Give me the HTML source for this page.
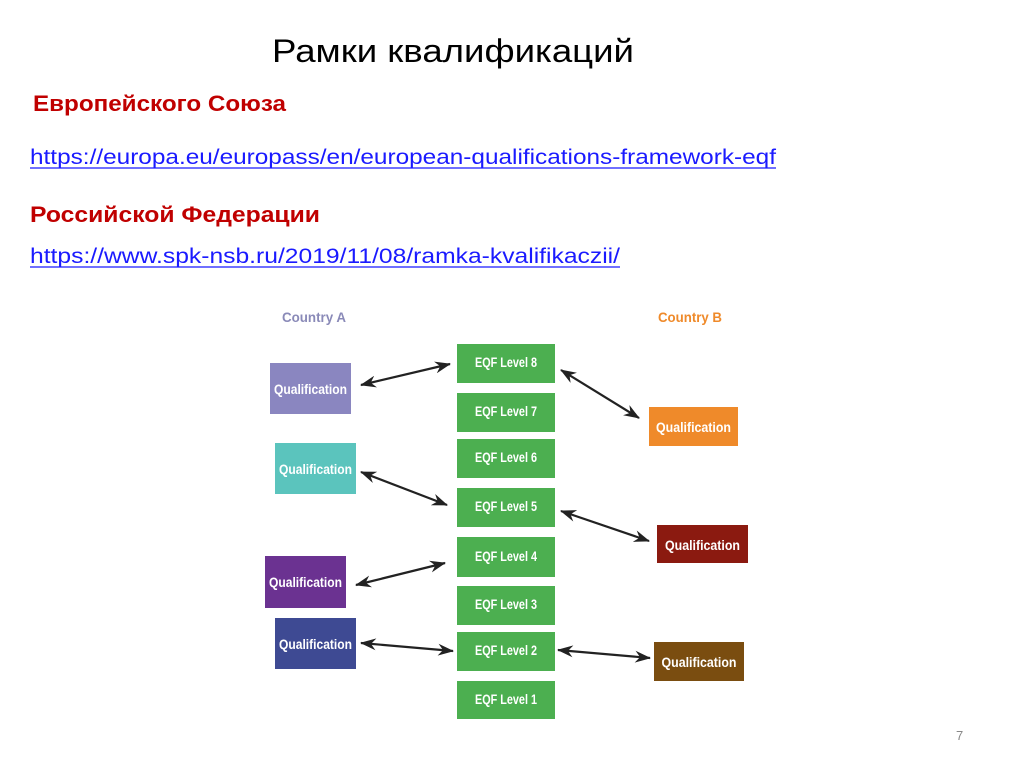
<!DOCTYPE html>
<html><head><meta charset="utf-8"><style>
html,body{margin:0;padding:0;background:#fff;}
svg{display:block;}
</style></head><body>
<svg width="1024" height="767" viewBox="0 0 1024 767" xmlns="http://www.w3.org/2000/svg" font-family="Liberation Sans, sans-serif">
<defs>
<marker id="ah" markerWidth="16" markerHeight="12" refX="15" refY="6" orient="auto-start-reverse" markerUnits="userSpaceOnUse">
<path d="M0,0 L16,6 L0,12 L5,6 Z" fill="#222"/>
</marker>
</defs>
<text x="272" y="62" font-size="32" fill="#000" textLength="362" lengthAdjust="spacingAndGlyphs">Рамки квалификаций</text>
<text x="33" y="111" font-size="22" font-weight="bold" fill="#c00000" textLength="253" lengthAdjust="spacingAndGlyphs">Европейского Союза</text>
<text x="30" y="164" font-size="21" fill="#1a1aff" textLength="746" lengthAdjust="spacingAndGlyphs">https://europa.eu/europass/en/european-qualifications-framework-eqf</text>
<line x1="30" y1="168" x2="776" y2="168" stroke="#1a1aff" stroke-width="1.3"/>
<text x="30" y="222" font-size="22" font-weight="bold" fill="#c00000" textLength="290" lengthAdjust="spacingAndGlyphs">Российской Федерации</text>
<text x="30" y="263" font-size="21" fill="#1a1aff" textLength="590" lengthAdjust="spacingAndGlyphs">https://www.spk-nsb.ru/2019/11/08/ramka-kvalifikaczii/</text>
<line x1="30" y1="267" x2="620" y2="267" stroke="#1a1aff" stroke-width="1.3"/>

<text x="282" y="322" font-size="14" font-weight="bold" fill="#8a8ab8" textLength="64" lengthAdjust="spacingAndGlyphs">Country A</text>
<text x="658" y="322" font-size="14" font-weight="bold" fill="#ef8a2a" textLength="64" lengthAdjust="spacingAndGlyphs">Country B</text>

<g fill="#4caf50">
<rect x="457" y="344" width="98" height="39"/>
<rect x="457" y="393" width="98" height="39"/>
<rect x="457" y="439" width="98" height="39"/>
<rect x="457" y="488" width="98" height="39"/>
<rect x="457" y="537" width="98" height="40"/>
<rect x="457" y="586" width="98" height="39"/>
<rect x="457" y="632" width="98" height="39"/>
<rect x="457" y="681" width="98" height="38"/>
</g>
<g fill="#fff" font-size="14" font-weight="bold" text-anchor="middle">
<text x="506" y="367" textLength="62" lengthAdjust="spacingAndGlyphs">EQF Level 8</text>
<text x="506" y="416" textLength="62" lengthAdjust="spacingAndGlyphs">EQF Level 7</text>
<text x="506" y="462" textLength="62" lengthAdjust="spacingAndGlyphs">EQF Level 6</text>
<text x="506" y="511" textLength="62" lengthAdjust="spacingAndGlyphs">EQF Level 5</text>
<text x="506" y="561" textLength="62" lengthAdjust="spacingAndGlyphs">EQF Level 4</text>
<text x="506" y="609" textLength="62" lengthAdjust="spacingAndGlyphs">EQF Level 3</text>
<text x="506" y="655" textLength="62" lengthAdjust="spacingAndGlyphs">EQF Level 2</text>
<text x="506" y="704" textLength="62" lengthAdjust="spacingAndGlyphs">EQF Level 1</text>
</g>

<rect x="270" y="363" width="81" height="51" fill="#8a86c0"/>
<rect x="275" y="443" width="81" height="51" fill="#5bc4bd"/>
<rect x="265" y="556" width="81" height="52" fill="#6b3291"/>
<rect x="275" y="618" width="81" height="51" fill="#3e4a93"/>
<rect x="649" y="407" width="89" height="39" fill="#ef8a2a"/>
<rect x="657" y="525" width="91" height="38" fill="#8b1a10"/>
<rect x="654" y="642" width="90" height="39" fill="#7a4d10"/>
<g fill="#fff" font-size="14" font-weight="bold" text-anchor="middle">
<text x="310.5" y="394" textLength="73" lengthAdjust="spacingAndGlyphs">Qualification</text>
<text x="315.5" y="474" textLength="73" lengthAdjust="spacingAndGlyphs">Qualification</text>
<text x="305.5" y="587" textLength="73" lengthAdjust="spacingAndGlyphs">Qualification</text>
<text x="315.5" y="649" textLength="73" lengthAdjust="spacingAndGlyphs">Qualification</text>
<text x="693.5" y="432" textLength="75" lengthAdjust="spacingAndGlyphs">Qualification</text>
<text x="702.5" y="550" textLength="75" lengthAdjust="spacingAndGlyphs">Qualification</text>
<text x="699" y="667" textLength="75" lengthAdjust="spacingAndGlyphs">Qualification</text>
</g>

<g stroke="#222" stroke-width="2.2" marker-start="url(#ah)" marker-end="url(#ah)">
<line x1="361" y1="385" x2="450" y2="364"/>
<line x1="561" y1="370" x2="639" y2="418"/>
<line x1="361" y1="472" x2="447" y2="505"/>
<line x1="561" y1="511" x2="649" y2="541"/>
<line x1="356" y1="585" x2="445" y2="563"/>
<line x1="361" y1="643" x2="453" y2="651"/>
<line x1="558" y1="650" x2="650" y2="658"/>
</g>

<text x="956" y="740" font-size="13" fill="#888">7</text>
</svg>
</body></html>
